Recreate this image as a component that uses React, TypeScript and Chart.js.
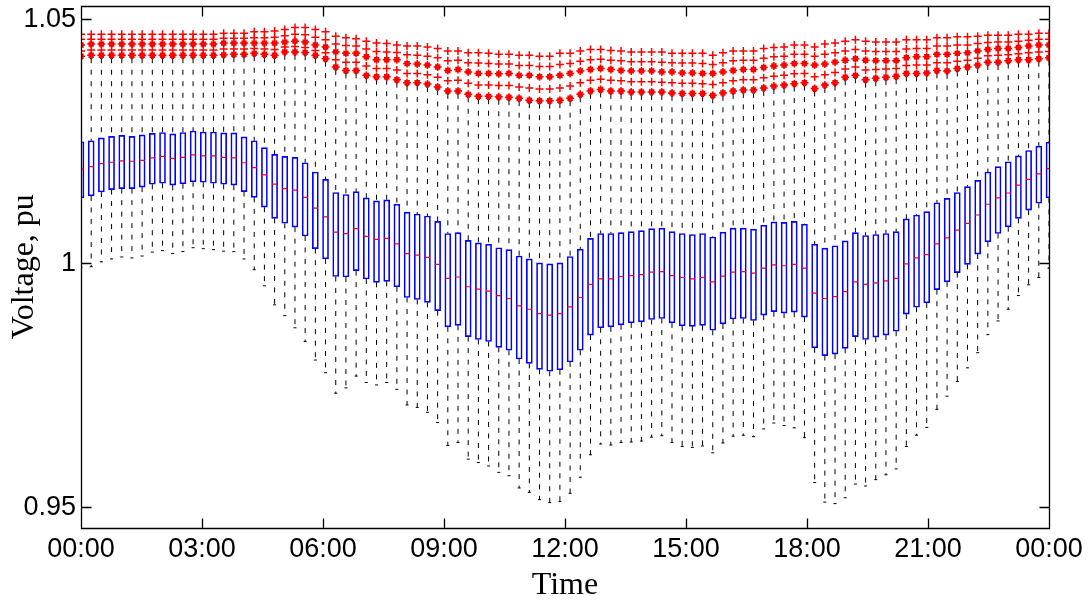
import React, { useEffect, useRef } from 'react';
import { Chart, registerables } from 'chart.js';

Chart.register(...registerables);

// 96 quarter-hour slots (1..96)
const slots: number[] = Array.from({ length: 96 }, (_, k) => k + 1);

const xTickPositions = [1, 12.875, 24.75, 36.625, 48.5, 60.375, 72.25, 84.125, 96];
const xTickLabels = ['00:00', '03:00', '06:00', '09:00', '12:00', '15:00', '18:00', '21:00', '00:00'];
const yTickValues = [0.95, 1, 1.05];
const yTickLabels = ['0.95', '1', '1.05'];

const boxTop = [
  1.0249, 1.0251, 1.0257, 1.0260, 1.0262, 1.0260, 1.0263, 1.0266, 1.0268, 1.0265,
  1.0268, 1.0271, 1.0269, 1.0269, 1.0267, 1.0267, 1.0259, 1.0251, 1.0237, 1.0223,
  1.0219, 1.0217, 1.0206, 1.0187, 1.0172, 1.0145, 1.0141, 1.0147, 1.0134, 1.0128,
  1.0130, 1.0121, 1.0105, 1.0101, 1.0097, 1.0086, 1.0061, 1.0063, 1.0047, 1.0042,
  1.0039, 1.0032, 1.0028, 1.0015, 1.0009, 1.0001, 0.9999, 1.0001, 1.0014, 1.0029,
  1.0051, 1.0061, 1.0061, 1.0063, 1.0065, 1.0067, 1.0071, 1.0072, 1.0065, 1.0061,
  1.0059, 1.0061, 1.0054, 1.0064, 1.0072, 1.0072, 1.0070, 1.0078, 1.0085, 1.0084,
  1.0086, 1.0080, 1.0039, 1.0031, 1.0036, 1.0046, 1.0063, 1.0057, 1.0059, 1.0061,
  1.0065, 1.0091, 1.0099, 1.0106, 1.0124, 1.0133, 1.0145, 1.0157, 1.0170, 1.0187,
  1.0198, 1.0208, 1.0220, 1.0231, 1.0240, 1.0248,
];

const median = [
  1.0193, 1.0198, 1.0204, 1.0207, 1.0210, 1.0209, 1.0211, 1.0216, 1.0219, 1.0215,
  1.0217, 1.0222, 1.0220, 1.0220, 1.0217, 1.0216, 1.0206, 1.0196, 1.0181, 1.0162,
  1.0153, 1.0150, 1.0135, 1.0113, 1.0095, 1.0064, 1.0061, 1.0071, 1.0055, 1.0049,
  1.0051, 1.0040, 1.0020, 1.0017, 1.0012, 0.9998, 0.9969, 0.9972, 0.9952, 0.9947,
  0.9943, 0.9934, 0.9928, 0.9913, 0.9906, 0.9897, 0.9894, 0.9897, 0.9911, 0.9930,
  0.9957, 0.9968, 0.9968, 0.9973, 0.9975, 0.9977, 0.9982, 0.9983, 0.9975, 0.9971,
  0.9968, 0.9971, 0.9962, 0.9974, 0.9982, 0.9983, 0.9980, 0.9990, 0.9997, 0.9995,
  0.9998, 0.9990, 0.9939, 0.9928, 0.9932, 0.9942, 0.9962, 0.9957, 0.9960, 0.9964,
  0.9969, 0.9999, 1.0011, 1.0018, 1.0040, 1.0052, 1.0068, 1.0082, 1.0099, 1.0121,
  1.0134, 1.0144, 1.0160, 1.0172, 1.0183, 1.0194,
];

const boxBottom = [
  1.0134, 1.0138, 1.0146, 1.0151, 1.0153, 1.0153, 1.0156, 1.0162, 1.0164, 1.0160,
  1.0163, 1.0167, 1.0166, 1.0164, 1.0162, 1.0160, 1.0147, 1.0135, 1.0115, 1.0092,
  1.0082, 1.0074, 1.0056, 1.0030, 1.0009, 0.9973, 0.9972, 0.9985, 0.9968, 0.9961,
  0.9963, 0.9952, 0.9930, 0.9926, 0.9920, 0.9903, 0.9870, 0.9873, 0.9850, 0.9844,
  0.9840, 0.9828, 0.9822, 0.9804, 0.9795, 0.9783, 0.9779, 0.9782, 0.9798, 0.9822,
  0.9853, 0.9868, 0.9870, 0.9874, 0.9878, 0.9880, 0.9885, 0.9887, 0.9878, 0.9872,
  0.9871, 0.9873, 0.9863, 0.9876, 0.9886, 0.9887, 0.9883, 0.9894, 0.9901, 0.9898,
  0.9900, 0.9890, 0.9827, 0.9811, 0.9814, 0.9826, 0.9850, 0.9844, 0.9849, 0.9853,
  0.9861, 0.9896, 0.9910, 0.9919, 0.9946, 0.9962, 0.9981, 0.9998, 1.0019, 1.0044,
  1.0061, 1.0075, 1.0092, 1.0109, 1.0123, 1.0134,
];

const whiskerLow = [
  0.9992, 0.9993, 1.0003, 1.0009, 1.0013, 1.0011, 1.0015, 1.0023, 1.0026, 1.0020,
  1.0024, 1.0032, 1.0030, 1.0028, 1.0025, 1.0024, 1.0009, 0.9987, 0.9954, 0.9915,
  0.9893, 0.9868, 0.9840, 0.9802, 0.9776, 0.9734, 0.9745, 0.9769, 0.9756, 0.9751,
  0.9756, 0.9742, 0.9710, 0.9705, 0.9695, 0.9674, 0.9627, 0.9633, 0.9599, 0.9592,
  0.9585, 0.9572, 0.9565, 0.9540, 0.9531, 0.9516, 0.9510, 0.9512, 0.9529, 0.9562,
  0.9608, 0.9630, 0.9628, 0.9633, 0.9634, 0.9636, 0.9644, 0.9647, 0.9633, 0.9625,
  0.9623, 0.9626, 0.9612, 0.9632, 0.9646, 0.9648, 0.9645, 0.9661, 0.9673, 0.9668,
  0.9663, 0.9643, 0.9551, 0.9511, 0.9508, 0.9520, 0.9548, 0.9544, 0.9557, 0.9567,
  0.9579, 0.9625, 0.9648, 0.9664, 0.9701, 0.9728, 0.9758, 0.9786, 0.9817, 0.9854,
  0.9882, 0.9906, 0.9934, 0.9956, 0.9971, 0.9990,
];

const whiskerHigh = [
  1.0418, 1.0420, 1.0420, 1.0420, 1.0420, 1.0420, 1.0420, 1.0420, 1.0420, 1.0420,
  1.0420, 1.0420, 1.0420, 1.0420, 1.0421, 1.0422, 1.0422, 1.0424, 1.0422, 1.0420,
  1.0427, 1.0427, 1.0426, 1.0420, 1.0413, 1.0396, 1.0389, 1.0389, 1.0379, 1.0376,
  1.0376, 1.0370, 1.0364, 1.0364, 1.0361, 1.0355, 1.0347, 1.0347, 1.0340, 1.0336,
  1.0336, 1.0335, 1.0334, 1.0332, 1.0328, 1.0327, 1.0327, 1.0328, 1.0332, 1.0340,
  1.0347, 1.0350, 1.0347, 1.0347, 1.0345, 1.0345, 1.0345, 1.0345, 1.0343, 1.0342,
  1.0342, 1.0342, 1.0338, 1.0343, 1.0347, 1.0349, 1.0349, 1.0353, 1.0357, 1.0359,
  1.0362, 1.0364, 1.0352, 1.0359, 1.0364, 1.0375, 1.0379, 1.0370, 1.0373, 1.0375,
  1.0377, 1.0383, 1.0383, 1.0384, 1.0389, 1.0388, 1.0393, 1.0396, 1.0400, 1.0406,
  1.0406, 1.0409, 1.0411, 1.0411, 1.0413, 1.0415,
];

// outlier rows ('+' markers above the upper whiskers)
const outTop = [
  1.0469, 1.0469, 1.0469, 1.0469, 1.0469, 1.0469, 1.0469, 1.0469, 1.0469, 1.0469,
  1.0469, 1.0469, 1.0469, 1.0469, 1.0471, 1.0471, 1.0471, 1.0474, 1.0474, 1.0476,
  1.0479, 1.0483, 1.0483, 1.0479, 1.0474, 1.0465, 1.0462, 1.0460, 1.0455, 1.0451,
  1.0450, 1.0447, 1.0445, 1.0445, 1.0443, 1.0440, 1.0435, 1.0435, 1.0431, 1.0431,
  1.0430, 1.0428, 1.0428, 1.0426, 1.0426, 1.0424, 1.0424, 1.0430, 1.0430, 1.0435,
  1.0438, 1.0438, 1.0436, 1.0435, 1.0433, 1.0433, 1.0433, 1.0433, 1.0430, 1.0430,
  1.0430, 1.0430, 1.0426, 1.0431, 1.0435, 1.0435, 1.0435, 1.0440, 1.0442, 1.0443,
  1.0447, 1.0447, 1.0443, 1.0449, 1.0451, 1.0455, 1.0458, 1.0455, 1.0453, 1.0453,
  1.0453, 1.0458, 1.0458, 1.0458, 1.0462, 1.0462, 1.0464, 1.0464, 1.0465, 1.0467,
  1.0467, 1.0467, 1.0469, 1.0469, 1.0471, 1.0471,
];

const outHi = [
  1.0459, 1.0459, 1.0459, 1.0459, 1.0459, 1.0459, 1.0459, 1.0459, 1.0459, 1.0459,
  1.0459, 1.0459, 1.0459, 1.0459, 1.0461, 1.0461, 1.0461, 1.0462, 1.0462, 1.0463,
  1.0466, 1.0469, 1.0468, 1.0463, 1.0458, 1.0449, 1.0446, 1.0445, 1.0439, 1.0434,
  1.0433, 1.0432, 1.0427, 1.0426, 1.0424, 1.0421, 1.0415, 1.0416, 1.0411, 1.0410,
  1.0409, 1.0408, 1.0408, 1.0405, 1.0405, 1.0403, 1.0403, 1.0407, 1.0409, 1.0414,
  1.0417, 1.0418, 1.0416, 1.0415, 1.0413, 1.0413, 1.0413, 1.0412, 1.0411, 1.0410,
  1.0410, 1.0409, 1.0407, 1.0411, 1.0415, 1.0416, 1.0416, 1.0420, 1.0423, 1.0424,
  1.0428, 1.0428, 1.0424, 1.0428, 1.0431, 1.0435, 1.0438, 1.0435, 1.0434, 1.0434,
  1.0434, 1.0439, 1.0440, 1.0440, 1.0445, 1.0445, 1.0447, 1.0447, 1.0450, 1.0452,
  1.0453, 1.0453, 1.0455, 1.0457, 1.0459, 1.0459,
];

const outMid = [
  1.0447, 1.0449, 1.0449, 1.0449, 1.0449, 1.0449, 1.0449, 1.0449, 1.0449, 1.0449,
  1.0449, 1.0449, 1.0449, 1.0449, 1.0451, 1.0451, 1.0451, 1.0451, 1.0451, 1.0451,
  1.0453, 1.0455, 1.0453, 1.0447, 1.0443, 1.0433, 1.0430, 1.0430, 1.0423, 1.0417,
  1.0417, 1.0417, 1.0409, 1.0408, 1.0406, 1.0402, 1.0395, 1.0397, 1.0392, 1.0389,
  1.0389, 1.0388, 1.0389, 1.0385, 1.0385, 1.0382, 1.0382, 1.0385, 1.0389, 1.0394,
  1.0397, 1.0399, 1.0397, 1.0395, 1.0394, 1.0394, 1.0394, 1.0392, 1.0392, 1.0390,
  1.0390, 1.0389, 1.0389, 1.0392, 1.0395, 1.0397, 1.0397, 1.0401, 1.0404, 1.0406,
  1.0409, 1.0409, 1.0406, 1.0408, 1.0412, 1.0416, 1.0419, 1.0416, 1.0415, 1.0415,
  1.0415, 1.0421, 1.0423, 1.0423, 1.0428, 1.0428, 1.0430, 1.0431, 1.0435, 1.0438,
  1.0440, 1.0440, 1.0442, 1.0445, 1.0447, 1.0447,
];

const outLo = [
  1.0435, 1.0437, 1.0437, 1.0437, 1.0437, 1.0437, 1.0437, 1.0437, 1.0437, 1.0437,
  1.0437, 1.0437, 1.0437, 1.0437, 1.0439, 1.0439, 1.0439, 1.0440, 1.0439, 1.0438,
  1.0443, 1.0444, 1.0442, 1.0436, 1.0431, 1.0417, 1.0412, 1.0412, 1.0404, 1.0399,
  1.0399, 1.0396, 1.0389, 1.0389, 1.0386, 1.0381, 1.0374, 1.0375, 1.0369, 1.0365,
  1.0365, 1.0364, 1.0364, 1.0361, 1.0359, 1.0357, 1.0357, 1.0359, 1.0363, 1.0370,
  1.0375, 1.0377, 1.0375, 1.0374, 1.0372, 1.0372, 1.0372, 1.0371, 1.0370, 1.0369,
  1.0369, 1.0368, 1.0366, 1.0370, 1.0374, 1.0376, 1.0376, 1.0380, 1.0383, 1.0385,
  1.0388, 1.0389, 1.0382, 1.0386, 1.0391, 1.0398, 1.0402, 1.0396, 1.0397, 1.0398,
  1.0399, 1.0405, 1.0406, 1.0406, 1.0411, 1.0411, 1.0414, 1.0416, 1.0420, 1.0425,
  1.0426, 1.0427, 1.0429, 1.0431, 1.0433, 1.0434,
];

const outBot = [
  1.0424, 1.0426, 1.0426, 1.0426, 1.0426, 1.0426, 1.0426, 1.0426, 1.0426, 1.0426,
  1.0426, 1.0426, 1.0426, 1.0426, 1.0427, 1.0428, 1.0428, 1.0430, 1.0428, 1.0426,
  1.0433, 1.0433, 1.0432, 1.0426, 1.0419, 1.0402, 1.0395, 1.0395, 1.0385, 1.0382,
  1.0382, 1.0376, 1.0370, 1.0370, 1.0367, 1.0361, 1.0353, 1.0353, 1.0346, 1.0342,
  1.0342, 1.0341, 1.0340, 1.0338, 1.0334, 1.0333, 1.0333, 1.0334, 1.0338, 1.0346,
  1.0353, 1.0356, 1.0353, 1.0353, 1.0351, 1.0351, 1.0351, 1.0351, 1.0349, 1.0348,
  1.0348, 1.0348, 1.0344, 1.0349, 1.0353, 1.0355, 1.0355, 1.0359, 1.0363, 1.0365,
  1.0368, 1.0370, 1.0358, 1.0365, 1.0370, 1.0381, 1.0385, 1.0376, 1.0379, 1.0381,
  1.0383, 1.0389, 1.0389, 1.0390, 1.0395, 1.0394, 1.0399, 1.0402, 1.0406, 1.0412,
  1.0412, 1.0415, 1.0417, 1.0417, 1.0419, 1.0421,
];

const Y_MIN = 0.9458;
const Y_MAX = 1.0528;

const framePlugin = {
  id: 'matlabFrame',
  afterDatasetsDraw(chart: any) {
    const { ctx, chartArea: a, scales } = chart;
    const L = Math.round(a.left) + 0.5;
    const R = Math.round(a.right) + 0.5;
    const T = Math.round(a.top) + 0.5;
    const B = Math.round(a.bottom) + 0.5;
    const tl = 10;
    ctx.save();
    ctx.strokeStyle = '#000';
    ctx.lineWidth = 1.3;
    ctx.beginPath();
    ctx.rect(L, T, R - L, B - T);
    xTickPositions.forEach((v) => {
      const px = Math.round(scales.x.getPixelForValue(v)) + 0.5;
      ctx.moveTo(px, B);
      ctx.lineTo(px, B - tl);
      ctx.moveTo(px, T);
      ctx.lineTo(px, T + tl);
    });
    yTickValues.forEach((v) => {
      const py = Math.round(scales.y.getPixelForValue(v)) + 0.5;
      ctx.moveTo(L, py);
      ctx.lineTo(L + tl, py);
      ctx.moveTo(R, py);
      ctx.lineTo(R - tl, py);
    });
    ctx.stroke();
    ctx.restore();
  },
};

export default function App() {
  const ref = useRef<HTMLCanvasElement>(null);

  useEffect(() => {
    if (!ref.current) return;

    const boxes = slots.map((s, k) => ({ x: s, y: [boxBottom[k], boxTop[k]] }));
    const medians = slots.map((s, k) => ({ x: s, y: median[k] }));
    const whiskers: any[] = [];
    slots.forEach((s, k) => {
      whiskers.push({ x: s, y: whiskerHigh[k] }, { x: s, y: boxTop[k] }, { x: s, y: null });
      whiskers.push({ x: s, y: boxBottom[k] }, { x: s, y: whiskerLow[k] }, { x: s, y: null });
    });
    const caps: any[] = [];
    slots.forEach((s, k) => {
      caps.push({ x: s, y: whiskerLow[k] }, { x: s, y: whiskerHigh[k] });
    });
    const crosses: any[] = [];
    const blobs: any[] = [];
    slots.forEach((s, k) => {
      crosses.push(
        { x: s, y: outTop[k] },
        { x: s, y: outHi[k] },
        { x: s, y: outMid[k] },
        { x: s, y: outLo[k] },
        { x: s, y: outBot[k] },
      );
      blobs.push({ x: s, y: outMid[k] }, { x: s, y: outBot[k] });
    });

    const tickFont = { family: '"Liberation Sans", Arial, Helvetica, sans-serif', size: 27 };
    const titleFont = { family: '"Liberation Serif", "Times New Roman", serif', size: 32 };

    const chart = new Chart(ref.current, {
      type: 'scatter',
      data: {
        datasets: [
          {
            type: 'scatter',
            data: blobs,
            pointStyle: 'rect',
            pointRadius: 3.8,
            pointBackgroundColor: '#ff0000',
            pointBorderWidth: 0,
            pointBorderColor: '#ff0000',
            clip: 0,
          } as any,
          {
            type: 'scatter',
            data: crosses,
            pointStyle: 'cross',
            pointRadius: 4,
            pointBorderWidth: 1.5,
            pointBorderColor: '#ff0000',
            clip: 0,
          } as any,
          {
            type: 'scatter',
            data: medians,
            pointStyle: 'line',
            pointRadius: 2.6,
            pointBorderWidth: 1.2,
            pointBorderColor: '#ff0000',
            clip: 0,
          } as any,
          {
            type: 'bar',
            data: boxes,
            backgroundColor: 'rgba(0,0,0,0)',
            borderColor: '#0000ff',
            borderWidth: 1,
            borderSkipped: false,
            barThickness: 6,
            grouped: false,
            clip: 0,
          } as any,
          {
            type: 'scatter',
            data: caps,
            pointStyle: 'line',
            pointRadius: 1.5,
            pointBorderWidth: 1,
            pointBorderColor: '#000000',
            clip: 0,
          } as any,
          {
            type: 'line',
            data: whiskers,
            borderColor: '#000000',
            borderWidth: 1,
            borderDash: [5, 6.5],
            pointRadius: 0,
            spanGaps: false,
            fill: false,
            tension: 0,
            clip: 0,
          } as any,
        ],
      },
      options: {
        animation: false,
        responsive: false,
        devicePixelRatio: 1,
        events: [],
        layout: { padding: { left: 0, right: 39, top: 5, bottom: 0 } },
        plugins: {
          legend: { display: false },
          tooltip: { enabled: false },
        },
        scales: {
          x: {
            type: 'linear',
            min: 1,
            max: 96,
            offset: false,
            grid: { display: false, drawTicks: false },
            border: { display: false },
            afterBuildTicks: (scale: any) => {
              scale.ticks = xTickPositions.map((v) => ({ value: v }));
            },
            afterFit: (scale: any) => {
              scale.height = 74;
              scale.paddingLeft = 0;
              scale.paddingRight = 0;
            },
            ticks: {
              autoSkip: false,
              maxRotation: 0,
              minRotation: 0,
              padding: 5,
              color: '#000',
              font: tickFont,
              callback: (value: any) => {
                const idx = xTickPositions.findIndex((p) => Math.abs(p - Number(value)) < 1e-6);
                return idx >= 0 ? xTickLabels[idx] : '';
              },
            },
            title: {
              display: true,
              text: 'Time',
              color: '#000',
              font: titleFont,
              padding: { top: 0, bottom: -3 },
            },
          },
          y: {
            type: 'linear',
            min: Y_MIN,
            max: Y_MAX,
            grid: { display: false, drawTicks: false },
            border: { display: false },
            afterBuildTicks: (scale: any) => {
              scale.ticks = yTickValues.map((v) => ({ value: v }));
            },
            afterFit: (scale: any) => {
              scale.width = 81;
              scale.paddingTop = 0;
              scale.paddingBottom = 0;
            },
            ticks: {
              padding: 5,
              color: '#000',
              font: tickFont,
              callback: (value: any) => {
                const idx = yTickValues.findIndex((p) => Math.abs(p - Number(value)) < 1e-9);
                return idx >= 0 ? yTickLabels[idx] : '';
              },
            },
            title: {
              display: true,
              text: 'Voltage, pu',
              color: '#000',
              font: titleFont,
              padding: { top: 5, bottom: 0 },
            },
          },
        },
      },
      plugins: [framePlugin],
    } as any);

    return () => chart.destroy();
  }, []);

  return (
    <div style={{ position: 'fixed', left: 0, top: 0, width: 1088, height: 602, background: '#fff' }}>
      <canvas ref={ref} width={1088} height={602} style={{ display: 'block' }} />
    </div>
  );
}
